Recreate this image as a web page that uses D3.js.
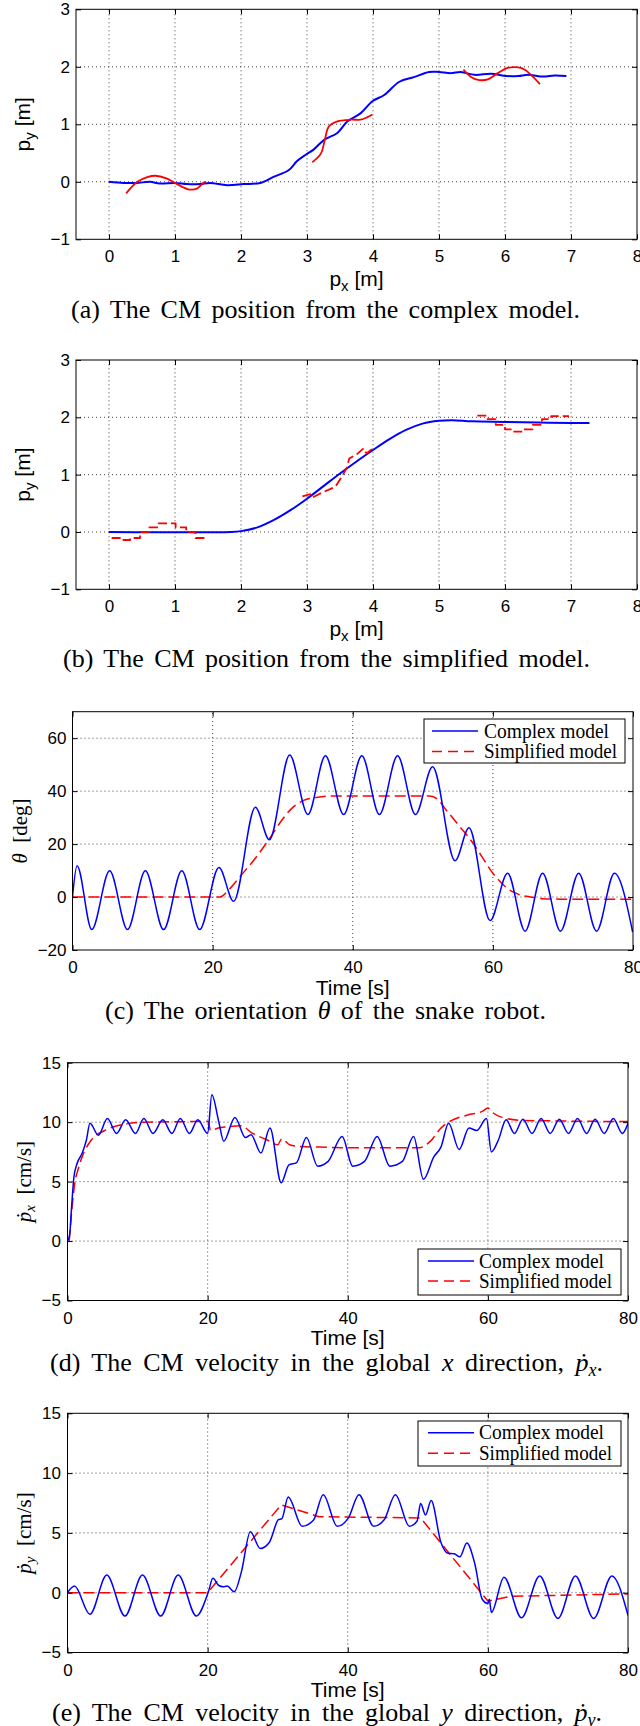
<!DOCTYPE html>
<html><head><meta charset="utf-8">
<script src="https://cdn.jsdelivr.net/npm/d3@7"></script>
<style>
html,body{margin:0;padding:0;background:#fff;}
svg{display:block;}
</style></head><body>
<script>
// ---------------- DATA ----------------
// (a) CM position, complex model  [p_x, p_y]
const aComplex = [[0,0],[0.22,-0.02],[0.42,-0.02],[0.62,0],[0.77,-0.03],[1.0,-0.02],[1.18,-0.04],[1.38,-0.04],[1.53,-0.02],[1.79,-0.06],[2.04,-0.04],[2.29,-0.02],[2.5,0.09],[2.72,0.2],[2.85,0.36],[2.98,0.47],[3.1,0.56],[3.26,0.73],[3.46,0.85],[3.61,1.05],[3.81,1.19],[3.99,1.4],[4.17,1.51],[4.4,1.74],[4.62,1.82],[4.85,1.91],[5.0,1.91],[5.18,1.89],[5.33,1.91],[5.54,1.86],[5.79,1.88],[6.02,1.84],[6.2,1.84],[6.35,1.86],[6.58,1.83],[6.75,1.85],[6.93,1.84]];
const aRed1 = [[0.26,-0.2],[0.43,0],[0.58,0.08],[0.7,0.105],[0.87,0.06],[1.0,-0.02],[1.2,-0.13],[1.33,-0.12],[1.43,-0.02],[1.47,0]];
const aRed2 = [[3.08,0.34],[3.21,0.49],[3.27,0.73],[3.33,0.96],[3.46,1.05],[3.67,1.08],[3.81,1.08],[3.91,1.12],[3.99,1.17]];
const aRed3 = [[5.37,1.95],[5.49,1.82],[5.61,1.77],[5.74,1.78],[5.89,1.89],[6.04,1.98],[6.2,1.99],[6.3,1.95],[6.42,1.83],[6.53,1.7]];

// (b) CM position, simplified model
const bBlue = [[0,0],[1.85,0],[2.0,0.015],[2.25,0.08],[2.5,0.21],[2.75,0.38],[3.0,0.58],[3.25,0.8],[3.5,1.02],[3.75,1.23],[4.0,1.43],[4.25,1.62],[4.5,1.78],[4.75,1.89],[5.0,1.94],[5.2,1.95],[5.5,1.93],[6.0,1.92],[6.5,1.91],[7.0,1.9],[7.28,1.9]];
const bRedA = [[0.04,-0.105],[0.18,-0.14],[0.32,-0.105],[0.47,0],[0.61,0.08],[0.75,0.15],[1.01,0.08],[1.17,0],[1.31,-0.105],[1.45,-0.105]];
const bRedB = [[2.93,0.62],[3.05,0.66],[3.08,0.6],[3.2,0.67],[3.43,0.79],[3.52,0.95],[3.6,1.11],[3.64,1.28],[3.77,1.37],[3.86,1.46],[3.9,1.37],[4.0,1.46]];
const bRedC = [[5.58,2.03],[5.72,1.97],[5.86,1.87],[6.0,1.79],[6.14,1.75],[6.27,1.79],[6.42,1.87],[6.56,1.97],[6.7,2.02],[6.97,2.02]];

// (c) orientation theta [deg] vs time [s]
const cComplex = [[0,0],[0.65,11.8],[2.75,-12.3],[5.3,9.9],[7.85,-12.3],[10.4,9.9],[13.0,-12.3],[15.6,9.9],[18.15,-12.3],[20.9,11.2],[23.0,-1.6],[26.1,33.9],[28.1,21.6],[31.0,53.6],[33.6,31.2],[36.1,53.4],[38.7,31.2],[41.3,53.4],[43.8,31.2],[46.4,53.4],[48.95,31.2],[51.4,49.2],[54.6,13.7],[56.6,26.2],[59.6,-8.9],[62.1,9.0],[64.6,-12.9],[67.1,9.0],[69.65,-12.9],[72.25,9.0],[74.8,-12.9],[77.35,9.0],[79.95,-13.2]];
const cSimplified = [[0,0],[21,0],[22.4,3],[24,8],[25.9,14],[28.1,22],[30,29.5],[31.3,33.5],[33,36.5],[35,37.7],[37,38.2],[51,38.2],[52,37.2],[53.3,33],[55,27.5],[57,21],[58.5,15],[60,9],[61,6],[62.2,3],[63.5,1.2],[65.4,0],[67,-0.6],[70,-0.8],[80,-0.8]];

// (d) velocity x [cm/s] vs time [s]
const dComplex = [[0,0],[0.3,0.5],[0.6,3],[0.9,5.3],[1.3,6.4],[2.1,7.4],[2.7,8.5],[3.2,9.9],[4.4,8.9],[5.7,10.3],[7.0,9.05],[8.3,10.2],[9.7,9.05],[10.9,10.3],[12.2,9.05],[13.6,10.2],[14.9,9.05],[16.1,10.3],[17.4,9.05],[18.6,10.2],[20.0,9.05],[20.6,12.3],[21.6,10.0],[22.3,8.4],[23.9,10.4],[25.4,8.7],[26.2,8.95],[27.6,7.4],[28.9,9.5],[30.5,4.9],[31.6,6.4],[32.7,6.6],[34.1,8.7],[35.7,6.3],[37.2,6.7],[39.2,8.8],[40.7,6.3],[42.4,6.7],[44.2,8.8],[46.0,6.3],[47.8,6.7],[49.4,8.8],[50.8,5.2],[52.3,7.1],[53.3,7.9],[54.4,9.9],[55.9,7.7],[57.3,9.5],[58.4,9.3],[59.8,10.3],[60.5,7.5],[61.5,8.5],[62.6,10.2],[63.8,9.05],[65.0,10.25],[66.3,9.05],[67.6,10.3],[68.9,9.05],[70.2,10.25],[71.5,9.05],[72.8,10.3],[74.1,9.05],[75.3,10.25],[76.6,9.05],[77.9,10.3],[79.2,9.05],[80,9.9]];
const dSimplified = [[0.25,0],[0.6,2.5],[1.04,4.9],[1.5,6.0],[2.1,7.1],[3.4,8.5],[5.3,9.3],[7.9,9.8],[11.1,10.0],[20.1,10.05],[20.4,9.3],[21.5,9.5],[22.7,9.6],[24.8,9.7],[26.3,9.1],[28.5,8.5],[30.0,8.1],[30.6,8.6],[31.7,8.1],[33.3,7.95],[36,7.9],[41,7.85],[50.2,7.85],[51.8,8.4],[53.3,9.5],[54.7,10.1],[57.1,10.6],[59.2,10.9],[60,11.2],[60.5,10.9],[62.3,10.35],[65,10.15],[70,10.1],[80,10.05]];

// (e) velocity y [cm/s] vs time [s]
const eComplex = [[0,0],[1.0,0.55],[3.2,-1.8],[5.6,1.47],[8.2,-1.95],[10.7,1.47],[13.3,-1.95],[15.8,1.47],[18.4,-1.95],[20.1,0.05],[20.75,1.2],[21.6,0.6],[22.2,0.5],[22.8,0.55],[23.8,0.08],[24.8,1.7],[26.1,5.1],[27.5,3.7],[28.8,4.2],[30.1,6.1],[30.6,6.2],[31.5,8.0],[33.5,5.55],[35.1,6.05],[36.5,8.2],[38.5,5.55],[40.1,6.25],[41.6,8.2],[43.7,5.55],[45.2,6.1],[46.8,8.2],[48.8,5.55],[49.9,6.0],[50.4,7.45],[51.1,6.5],[51.9,7.7],[53.3,4.2],[54.3,3.3],[55.2,3.25],[56.0,3.0],[57.0,4.15],[58.1,2.5],[59.2,-0.55],[60.0,-0.9],[60.2,-0.55],[60.5,-1.65],[62.3,1.3],[64.8,-2.1],[67.4,1.4],[70.0,-2.15],[72.5,1.4],[75.1,-2.15],[77.7,1.4],[80,-1.9]];
const eSimplified = [[0,0],[20,0],[30.5,7.35],[35.9,6.35],[50.4,6.25],[60,-0.7],[63.3,-0.3],[80,-0.1]];

// ticks
const posXTicks = [0,1,2,3,4,5,6,7,8];
const posYTicks = [-1,0,1,2,3];
const timeTicks = [0,20,40,60,80];
const thetaTicks = [-20,0,20,40,60];
const velTicks = [-5,0,5,10,15];
const legendLabels = ["Complex model","Simplified model"];

// ---------------- DRAWING ----------------
const SANS = "'Liberation Sans', Arial, Helvetica, sans-serif";
const SERIF = "'Liberation Serif', 'Times New Roman', 'DejaVu Serif', serif";
const BLUE = "#0000ff", RED = "#ff0000";

const svg = d3.select("body").append("svg").attr("width",640).attr("height",1726);
const defs = svg.append("defs");
const fmt = d => d < 0 ? "\u2212" + Math.abs(d) : String(d);

function makePanel(o){
  const x = d3.scaleLinear().domain(o.xDomain).range([o.left,o.right]);
  const y = d3.scaleLinear().domain(o.yDomain).range([o.bottom,o.top]);
  const g = svg.append("g");
  const cid = "clip_" + o.id;
  defs.append("clipPath").attr("id",cid).append("rect")
    .attr("x",o.left).attr("y",o.top).attr("width",o.right-o.left).attr("height",o.bottom-o.top);
  const gridX = o.xTicks.filter(v => v > o.xDomain[0] && v < o.xDomain[1]);
  const gridY = o.yTicks.filter(v => v > o.yDomain[0] && v < o.yDomain[1]);
  const grid = g.append("g").attr("stroke","#444").attr("stroke-width",1).attr("stroke-dasharray","1,3");
  grid.selectAll(".gx").data(gridX).join("line").attr("class","gx")
    .attr("x1",d=>x(d)).attr("x2",d=>x(d)).attr("y1",o.bottom).attr("y2",o.top);
  grid.selectAll(".gy").data(gridY).join("line").attr("class","gy")
    .attr("y1",d=>y(d)).attr("y2",d=>y(d)).attr("x1",o.left).attr("x2",o.right);
  const plot = g.append("g").attr("clip-path",`url(#${cid})`);
  const styleAxis = sel => {
    sel.select(".domain").remove();
    sel.selectAll(".tick line").attr("stroke","#000");
    sel.selectAll("text").attr("font-family",SANS).attr("font-size",17).attr("fill","#000");
  };
  g.append("g").attr("transform",`translate(0,${o.bottom})`)
    .call(d3.axisBottom(x).tickValues(o.xTicks).tickSize(-5).tickSizeOuter(0).tickPadding(o.xPad).tickFormat(fmt))
    .call(styleAxis);
  g.append("g").attr("transform",`translate(0,${o.top})`)
    .call(d3.axisTop(x).tickValues(o.xTicks).tickSize(-5).tickSizeOuter(0).tickFormat(""))
    .call(styleAxis);
  g.append("g").attr("transform",`translate(${o.left},0)`)
    .call(d3.axisLeft(y).tickValues(o.yTicks).tickSize(-5).tickSizeOuter(0).tickPadding(o.yPad).tickFormat(fmt))
    .call(styleAxis);
  g.append("g").attr("transform",`translate(${o.right},0)`)
    .call(d3.axisRight(y).tickValues(o.yTicks).tickSize(-5).tickSizeOuter(0).tickFormat(""))
    .call(styleAxis);
  g.append("rect").attr("x",o.left).attr("y",o.top).attr("width",o.right-o.left).attr("height",o.bottom-o.top)
    .attr("fill","none").attr("stroke","#000").attr("stroke-width",1);
  return {g, plot, x, y};
}

function drawLine(p, data, color, width, dash, curve){
  const line = d3.line().x(d=>p.x(d[0])).y(d=>p.y(d[1])).curve(curve || d3.curveLinear);
  p.plot.append("path").datum(data).attr("d",line).attr("fill","none")
    .attr("stroke",color).attr("stroke-width",width)
    .attr("stroke-dasharray",dash || null).attr("stroke-linejoin","round");
}

function legend(box){
  const g = svg.append("g");
  g.append("rect").attr("x",box.x0).attr("y",box.y0).attr("width",box.x1-box.x0).attr("height",box.y1-box.y0)
    .attr("fill","#fff").attr("stroke","#000").attr("stroke-width",1);
  const cols = [BLUE, RED], dashes = [null, "10,6"], widths = [125,133];
  legendLabels.forEach((lab,i)=>{
    const yy = box.rows[i];
    g.append("line").attr("x1",box.lx0).attr("x2",box.lx1).attr("y1",yy).attr("y2",yy)
      .attr("stroke",cols[i]).attr("stroke-width",1.5).attr("stroke-dasharray",dashes[i]);
    g.append("text").attr("x",box.tx).attr("y",yy+6.5).attr("font-family",SERIF).attr("font-size",20)
      .attr("textLength",widths[i]).attr("lengthAdjust","spacingAndGlyphs").attr("fill","#000").text(lab);
  });
}

function fitWords(t, target){
  const w = t.node().getBBox().width;
  const n = (t.text().match(/ /g) || []).length;
  if (n > 0) t.attr("word-spacing", Math.max(0,(target - w) / n));
}

function caption(cx0, target, baseY, pieces){
  const t = svg.append("text").attr("x",cx0).attr("y",baseY).attr("font-family",SERIF)
    .attr("font-size",26).attr("fill","#000");
  pieces.forEach(pc=>{
    const s = t.append("tspan").text(pc.t);
    if (pc.i) s.attr("font-style","italic");
    if (pc.sub) s.attr("font-size",18).attr("dy",5);
    if (pc.up) s.attr("dy",-5);
  });
  fitWords(t, target);
}

function xLabelP(cx, by, sub){
  const t = svg.append("text").attr("x",cx).attr("y",by).attr("text-anchor","middle")
    .attr("font-family",SANS).attr("font-size",21).attr("fill","#000");
  t.append("tspan").text("p");
  t.append("tspan").attr("font-size",15).attr("dy",5).text(sub);
  t.append("tspan").attr("dy",-5).text(" [m]");
}
function yLabelP(bx, cy, sub){
  const t = svg.append("text").attr("transform",`translate(${bx},${cy}) rotate(-90)`).attr("text-anchor","middle")
    .attr("font-family",SANS).attr("font-size",21).attr("fill","#000");
  t.append("tspan").text("p");
  t.append("tspan").attr("font-size",15).attr("dy",5).text(sub);
  t.append("tspan").attr("dy",-5).text(" [m]");
}
function timeLabel(cx, by){
  svg.append("text").attr("x",cx).attr("y",by).attr("text-anchor","middle")
    .attr("font-family",SANS).attr("font-size",21).attr("fill","#000").text("Time [s]");
}
function yLabelVel(bx, cy, sub){
  const t = svg.append("text").attr("transform",`translate(${bx},${cy}) rotate(-90)`).attr("text-anchor","middle")
    .attr("font-family",SERIF).attr("font-size",21).attr("fill","#000");
  t.append("tspan").attr("font-style","italic").text("\u1E57");
  t.append("tspan").attr("font-style","italic").attr("font-size",15).attr("dy",4).text(sub);
  t.append("tspan").attr("dy",-4).text("\u2002[cm/s]");
}

// ---- (a)
const pa = makePanel({id:"a", left:76, right:637, top:9.3, bottom:239.3, xDomain:[-0.5,8], yDomain:[-1,3],
  xTicks:posXTicks, yTicks:posYTicks, xPad:11, yPad:6});
drawLine(pa, aComplex, BLUE, 2, null, d3.curveCatmullRom);
[aRed1, aRed2, aRed3].forEach(s => drawLine(pa, s, RED, 1.8, null, d3.curveCatmullRom));
xLabelP(356.5, 286, "x");
yLabelP(30, 124.3, "y");
caption(71, 509, 318, [{t:"(a) The CM position from the complex model."}]);

// ---- (b)
const pb = makePanel({id:"b", left:76, right:637, top:360, bottom:589.3, xDomain:[-0.5,8], yDomain:[-1,3],
  xTicks:posXTicks, yTicks:posYTicks, xPad:11, yPad:6});
drawLine(pb, bBlue, BLUE, 2, null, d3.curveCatmullRom);
drawLine(pb, bRedA, RED, 1.8, "9,4", d3.curveStepAfter);
drawLine(pb, bRedB, RED, 1.8, "9,4");
drawLine(pb, bRedC, RED, 1.8, "9,4", d3.curveStepAfter);
xLabelP(356.5, 636, "x");
yLabelP(30, 474.6, "y");
caption(63, 527, 667, [{t:"(b) The CM position from the simplified model."}]);

// ---- (c)
const pc = makePanel({id:"c", left:72.5, right:633, top:711.7, bottom:950, xDomain:[0,80], yDomain:[-20,70],
  xTicks:timeTicks, yTicks:thetaTicks, xPad:10.5, yPad:6});
drawLine(pc, cSimplified, RED, 1.5, "11,5", d3.curveMonotoneX);
drawLine(pc, cComplex, BLUE, 1.5, null, d3.curveMonotoneX);
timeLabel(352.7, 994.5);
(function(){
  const t = svg.append("text").attr("transform",`translate(27,831) rotate(-90)`).attr("text-anchor","middle")
    .attr("font-family",SERIF).attr("font-size",21).attr("fill","#000");
  t.append("tspan").attr("font-style","italic").text("\u03B8");
  t.append("tspan").text("\u2002[deg]");
})();
legend({x0:424, x1:625, y0:719, y1:763, rows:[731,751.5], lx0:432, lx1:478, tx:484});
caption(105, 441, 1019, [{t:"(c) The orientation "},{t:"\u03B8",i:true},{t:" of the snake robot."}]);

// ---- (d)
const pd = makePanel({id:"d", left:67.5, right:628, top:1062.7, bottom:1300.5, xDomain:[0,80], yDomain:[-5,15],
  xTicks:timeTicks, yTicks:velTicks, xPad:11, yPad:6.5});
drawLine(pd, dSimplified, RED, 1.5, "11,5", d3.curveMonotoneX);
drawLine(pd, dComplex, BLUE, 1.5, null, d3.curveMonotoneX);
timeLabel(347.7, 1344.5);
yLabelVel(31, 1181.6, "x");
legend({x0:418, x1:621, y0:1249, y1:1295, rows:[1261,1281], lx0:428, lx1:474, tx:479});
caption(50, 553, 1371, [{t:"(d) The CM velocity in the global "},{t:"x",i:true},{t:" direction, "},{t:"\u1E57",i:true},{t:"x",i:true,sub:true},{t:".",up:true}]);

// ---- (e)
const pe = makePanel({id:"e", left:67.5, right:628, top:1413.3, bottom:1652.5, xDomain:[0,80], yDomain:[-5,15],
  xTicks:timeTicks, yTicks:velTicks, xPad:11, yPad:6.5});
drawLine(pe, eSimplified, RED, 1.5, "11,5");
drawLine(pe, eComplex, BLUE, 1.5, null, d3.curveMonotoneX);
timeLabel(347.7, 1696.5);
yLabelVel(31, 1533, "y");
legend({x0:418, x1:621, y0:1421, y1:1466, rows:[1432.7,1453.3], lx0:428, lx1:474, tx:479});
caption(52, 550, 1721, [{t:"(e) The CM velocity in the global "},{t:"y",i:true},{t:" direction, "},{t:"\u1E57",i:true},{t:"y",i:true,sub:true},{t:".",up:true}]);
</script>
</body></html>
